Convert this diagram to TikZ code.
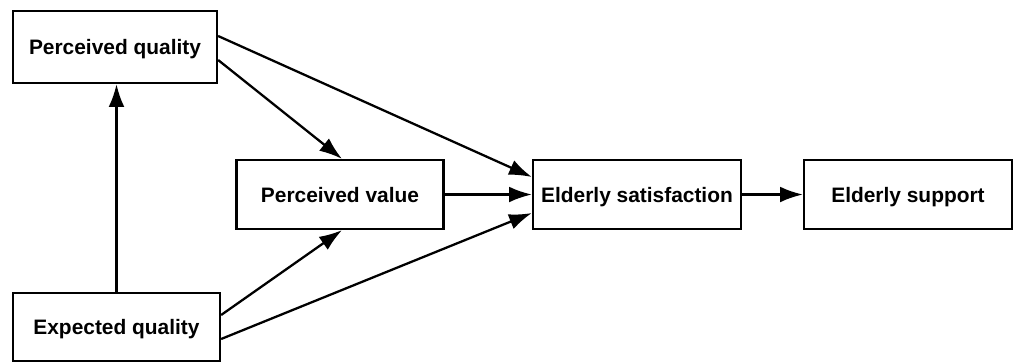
\documentclass[tikz,border=0pt]{standalone}
\usepackage{fontspec}
\setmainfont{Liberation Sans}
\usetikzlibrary{positioning, arrows.meta, calc}

\begin{document}
\begin{tikzpicture}[%
		x=0.02cm, y=-0.02cm,
		construct/.style={
			rectangle,
			minimum width=4.14cm,
			minimum height=1.38cm,
			line width=1.3pt,
			black,
			align=center,
			text height=8.6pt,
			text depth=0pt,
			font=\bfseries\fontsize{11.9}{14}\selectfont,
			draw
		},
		patharrow/.style={
			line width=1.3pt,
			-{Latex[length=13pt, width=9pt]}
		}]

		\useasboundingbox (0,0) rectangle (1013,362);

		% CONSTRUCTS

		\node (pq) [construct, minimum width=4.08cm, minimum height=1.44cm] at (115,47) {Perceived quality};
		\node (eq) [construct, minimum height=1.36cm] at (116.5,327) {Expected quality};
		\node (pv) [construct] at (340,194.5) {Perceived value};
		\node (es) [construct, minimum width=4.16cm] at (637,194.5) {Elderly satisfaction};
		\node (sup) [construct, minimum width=4.16cm] at (908,194.5) {Elderly support};

		% PATHS

		\draw[patharrow] (eq.north) -- (eq.north |- pq.south);
		\draw[patharrow] ([yshift=0.22cm]pq.east) -- ([yshift=0.35cm]es.west);
		\draw[patharrow] ([yshift=-0.26cm]pq.east) -- ([xshift=0.04cm]pv.north);
		\draw[patharrow] ([yshift=0.24cm]eq.east) -- ([xshift=0.04cm]pv.south);
		\draw[patharrow] ([yshift=-0.24cm]eq.east) -- ([yshift=-0.37cm]es.west);
		\draw[patharrow] (pv.east) -- (es.west);
		\draw[patharrow] (es.east) -- (sup.west);
\end{tikzpicture}
\end{document}
